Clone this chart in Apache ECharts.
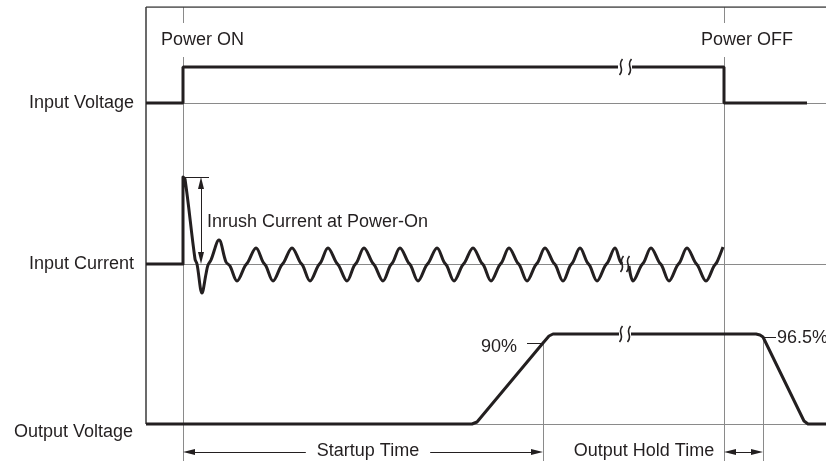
<!DOCTYPE html>
<html>
<head>
<meta charset="utf-8">
<script src="https://cdn.jsdelivr.net/npm/echarts@6/dist/echarts.min.js"></script>
<style>
html, body { margin: 0; padding: 0; background: #fff; }
#chart { width: 826px; height: 461px; }
</style>
</head>
<body>
<div id="chart"></div>
<script>
// t: time units from the left edge of the frame, level: height above output baseline
// null = break in the trace (the "ʃʃ" time gap)

// input voltage
var vinT = [0, 37, 37, 472, 479, 486, 578, 578, 661];
var vinV = [321, 321, 357, 357, null, 357, 357, 321, 321];

// input current (inrush spike, then the ac ripple)
var curT = [0, 37, 37, 39, 49, 51, 56, 60, 62, 65, 73,
    80, 84, 91, 99, 102, 110, 117, 120, 127, 135, 138, 146,
    154, 157, 164, 172, 175, 182, 190, 193, 201, 208, 211, 218,
    226, 229, 237, 244, 247, 254, 262, 265, 272, 280, 283, 291,
    298, 301, 308, 316, 319, 327, 335, 338, 345, 353, 356, 363,
    371, 374, 381, 389, 392, 399, 407, 410, 417, 424, 427, 434,
    441, 444, 451, 459, 462, 469, 474, 476, 479, 483, 487,
    495, 498, 505, 513, 516, 523, 531, 534, 541, 549, 552, 560,
    568, 571, 577];
var curV = [160, 160, 247, 245, 165, 160, 131, 150, 159, 164, 184,
    162, 158, 143, 158, 162, 176, 162, 158, 143, 158, 162, 176,
    162, 158, 143, 158, 162, 176, 162, 158, 143, 158, 162, 176,
    162, 158, 143, 158, 162, 176, 162, 158, 143, 158, 162, 176,
    162, 158, 143, 158, 162, 176, 162, 158, 143, 158, 162, 176,
    162, 158, 143, 158, 162, 176, 162, 158, 143, 158, 162, 176,
    162, 158, 143, 158, 162, 176, 163, 160, null, 158, 143,
    158, 162, 176, 162, 158, 143, 158, 162, 176, 162, 158, 143,
    158, 162, 177];

// output voltage
var outT = [0, 326, 331, 397, 403, 407, 473, 479, 485, 610, 614, 617, 658, 662, 680];
var outV = [0, 0, 2, 81, 88, 90, 90, null, 90, 90, 89, 87, 3, 0, 0];

// where the time-gap marks sit
var breakT = [475, 484, 476, 482, 475, 483];
var breakV = [357, 357, 160, 160, 90, 90];

// grey reference lines
var baseLevels = [321, 160, 0];
var markerT = [37, 578, 397, 617];      // power on, power off, 90 %, 96.5 %
var markerTop = [417, 417, 81, 87];
var frameTop = 417, bottomEdge = -37, tEnd = 680;

function pairs(t, v) {
    return t.map(function (x, i) { return [x, v[i] == null ? '-' : v[i]]; });
}

// small S curls for the time gaps
var breakData = [];
breakT.forEach(function (t, i) {
    var v = breakV[i];
    breakData.push([t + 1.5, v + 8], [t - 0.5, v + 3], [t + 0.5, v - 3], [t - 1.5, v - 8], [t, '-']);
});

var guideLines = [];
baseLevels.forEach(function (v) { guideLines.push({coords: [[0, v], [tEnd, v]]}); });
markerT.forEach(function (t, i) { guideLines.push({coords: [[t, markerTop[i]], [t, bottomEdge]]}); });

var tickLines = [
    {coords: [[381, 81], [397, 81]]},
    {coords: [[617, 87], [630, 87]]},
    {coords: [[37, 247], [63, 247]]}
];

var arrowLines = [
    {coords: [[43, -28], [391, -28]]},
    {coords: [[584, -28], [611, -28]]},
    {coords: [[55, 241], [55, 166]]}
];

var ink = '#231f20';
var font = '18px "Liberation Sans", Arial, sans-serif';

var labels = [
    {text: 'Power ON', x: 157, y: 40, align: 'left', pad: [8, 4]},
    {text: 'Power OFF', x: 697, y: 40, align: 'left', pad: [8, 4]},
    {text: 'Input Voltage', x: 134, y: 103, align: 'right'},
    {text: 'Input Current', x: 134, y: 264, align: 'right'},
    {text: 'Output Voltage', x: 133, y: 432, align: 'right'},
    {text: 'Inrush Current at Power-On', x: 207, y: 222, align: 'left'},
    {text: '90%', x: 517, y: 347, align: 'right'},
    {text: '96.5%', x: 777, y: 338, align: 'left'},
    {text: 'Startup Time', x: 368, y: 451, align: 'center', pad: [3, 11]},
    {text: 'Output Hold Time', x: 644, y: 451, align: 'center', pad: [3, 6]}
];

var myChart = echarts.init(document.getElementById('chart'), null, {renderer: 'canvas'});

var option = {
    animation: false,
    backgroundColor: '#fff',
    grid: {left: 146, right: 0, top: 7, bottom: 0},
    xAxis: {type: 'value', min: 0, max: tEnd, show: false},
    yAxis: {type: 'value', min: bottomEdge, max: frameTop, show: false},
    series: [
        {
            type: 'lines', coordinateSystem: 'cartesian2d', silent: true, z: 1,
            lineStyle: {color: '#8a8a8a', width: 1, opacity: 1},
            data: guideLines
        },
        {
            type: 'lines', coordinateSystem: 'cartesian2d', silent: true, z: 1,
            lineStyle: {color: '#3a3a3a', width: 1.5, opacity: 1},
            data: [{coords: [[0, 0], [0, frameTop]]}, {coords: [[0, frameTop], [tEnd, frameTop]]}]
        },
        {
            type: 'lines', coordinateSystem: 'cartesian2d', silent: true, z: 2,
            lineStyle: {color: ink, width: 1, opacity: 1},
            data: tickLines
        },
        {
            type: 'lines', coordinateSystem: 'cartesian2d', silent: true, z: 2,
            symbol: ['triangle', 'triangle'], symbolSize: [[6, 12], [6, 12]],
            lineStyle: {color: ink, width: 1, opacity: 1},
            data: arrowLines
        },
        {
            name: 'Input Voltage', type: 'line', z: 3, clip: false, showSymbol: false,
            lineStyle: {color: ink, width: 3},
            data: pairs(vinT, vinV)
        },
        {
            name: 'Input Current', type: 'line', z: 3, clip: false, showSymbol: false,
            smooth: 0.35,
            lineStyle: {color: ink, width: 3, join: 'round'},
            data: pairs(curT, curV)
        },
        {
            name: 'Output Voltage', type: 'line', z: 3, clip: false, showSymbol: false,
            lineStyle: {color: ink, width: 3, join: 'round'},
            data: pairs(outT, outV)
        },
        {
            name: 'gap', type: 'line', z: 3, clip: false, showSymbol: false, smooth: true,
            lineStyle: {color: ink, width: 1.6},
            data: breakData
        }
    ],
    graphic: labels.map(function (l) {
        return {
            type: 'text', x: l.x, y: l.y, z: 100,
            style: {
                text: l.text, font: font, fill: ink,
                align: l.align, verticalAlign: 'middle',
                textAlign: l.align, textVerticalAlign: 'middle',
                backgroundColor: l.pad ? '#fff' : null,
                padding: l.pad || 0
            }
        };
    })
};

myChart.setOption(option);
</script>
</body>
</html>
